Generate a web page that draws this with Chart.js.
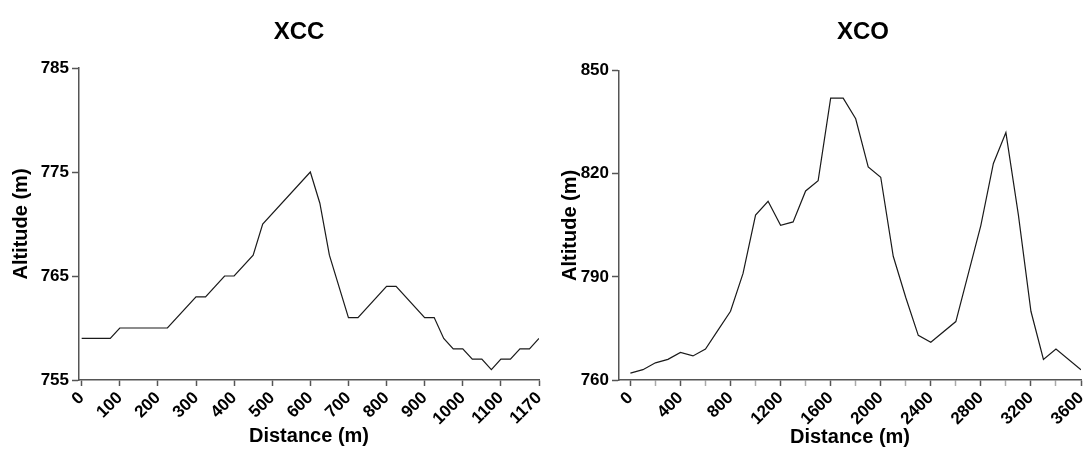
<!DOCTYPE html>
<html>
<head>
<meta charset="utf-8">
<script src="https://cdn.jsdelivr.net/npm/chart.js@4.4.0/dist/chart.umd.min.js"></script>
<style>
  html, body { margin: 0; padding: 0; background: #fff; overflow: hidden; width: 1083px; height: 449px; }
  #xcc { position: absolute; left: 0; top: 0; }
  #xco { position: absolute; left: 550px; top: 0; }
</style>
</head>
<body>
<canvas id="xcc" width="598" height="449"></canvas>
<canvas id="xco" width="626" height="449"></canvas>
<script>
// XCC profile (distance in m, altitude in m)
const xccDistance = [0, 75, 100, 225, 300, 325, 375, 400, 450, 475, 600, 625, 650, 700, 725, 800, 825, 900, 925, 950, 975, 1000, 1025, 1050, 1075, 1100, 1125, 1150, 1175, 1200];
const xccAltitude = [759, 759, 760, 760, 763, 763, 765, 765, 767, 770, 775, 772, 767, 761, 761, 764, 764, 761, 761, 759, 758, 758, 757, 757, 756, 757, 757, 758, 758, 759];
const xccTickValues = [0, 100, 200, 300, 400, 500, 600, 700, 800, 900, 1000, 1100, 1200];
const xccTickLabels = ['0', '100', '200', '300', '400', '500', '600', '700', '800', '900', '1000', '1100', '1170'];
const xccYTicks = [755, 765, 775, 785];

// XCO profile
const xcoDistance = [0, 100, 200, 300, 400, 500, 600, 700, 800, 900, 1000, 1100, 1200, 1300, 1400, 1500, 1600, 1700, 1800, 1900, 2000, 2100, 2200, 2300, 2400, 2600, 2800, 2900, 3000, 3100, 3200, 3300, 3400, 3600];
const xcoAltitude = [762, 763, 765, 766, 768, 767, 769, 774.5, 780, 791, 808, 812, 805, 806, 815, 818, 842, 842, 836, 822, 819, 796, 784, 773, 771, 777, 805, 823, 832, 808, 780, 766, 769, 763];
const xcoTickValues = [0, 200, 400, 600, 800, 1000, 1200, 1400, 1600, 1800, 2000, 2200, 2400, 2600, 2800, 3000, 3200, 3400, 3600];
const xcoTickLabels = ['0', '', '400', '', '800', '', '1200', '', '1600', '', '2000', '', '2400', '', '2800', '', '3200', '', '3600'];
const xcoYTicks = [760, 790, 820, 850];

const FONT = '"Liberation Sans", Arial, sans-serif';
const AXIS = '#555';

function profileChart(id, opts) {
    const ctx = document.getElementById(id).getContext('2d');
    const points = opts.distance.map((d, i) => ({ x: d, y: opts.altitude[i] }));

    return new Chart(ctx, {
        type: 'line',
        data: {
            datasets: [{
                data: points,
                borderColor: '#1a1a1a',
                borderWidth: 1.2,
                pointRadius: 0,
                tension: 0,
                fill: false
            }]
        },
        options: {
            responsive: false,
            animation: false,
            layout: { padding: 0 },
            plugins: {
                legend: { display: false },
                tooltip: { enabled: false },
                title: {
                    display: true,
                    text: opts.title,
                    color: '#000',
                    font: { family: FONT, size: 24, weight: 'bold' },
                    padding: { top: 17.6, bottom: opts.titleGap }
                }
            },
            scales: {
                x: {
                    type: 'linear',
                    min: opts.xMin,
                    max: opts.xMax,
                    afterBuildTicks: s => { s.ticks = opts.xTicks.map(v => ({ value: v })); },
                    afterFit: s => { s.height = 69; },
                    ticks: {
                        autoSkip: false,
                        minRotation: 45,
                        maxRotation: 45,
                        padding: 2,
                        color: '#000',
                        font: { family: FONT, size: 17, weight: 'bold' },
                        callback: (v, i) => opts.xLabels[i]
                    },
                    grid: {
                        drawOnChartArea: false,
                        tickLength: 6,
                        tickWidth: 1.5,
                        tickColor: c => (c.tick && opts.xLabels[c.index] === '') ? '#aaa' : AXIS
                    },
                    border: { color: AXIS, width: 1.5 },
                    title: {
                        display: true,
                        text: 'Distance (m)',
                        color: '#000',
                        font: { family: FONT, size: 20, weight: 'bold' },
                        padding: { top: 0, bottom: opts.xTitlePad }
                    }
                },
                y: {
                    min: opts.yMin,
                    max: opts.yMax,
                    afterBuildTicks: s => { s.ticks = opts.yTicks.map(v => ({ value: v })); },
                    afterFit: s => { s.width = opts.yWidth; },
                    ticks: {
                        padding: 3,
                        color: '#000',
                        font: { family: FONT, size: 17, weight: 'bold' }
                    },
                    grid: { drawOnChartArea: false, tickLength: 7, tickWidth: 1.5, tickColor: AXIS },
                    border: { color: AXIS, width: 1.5 },
                    title: {
                        display: true,
                        text: 'Altitude (m)',
                        color: '#000',
                        font: { family: FONT, size: 20, weight: 'bold' },
                        padding: { top: opts.yTitlePad, bottom: 0 }
                    }
                },
                // empty right-hand box, keeps the title centred like the original
                spacer: {
                    type: 'linear',
                    position: 'right',
                    display: true,
                    ticks: { display: false },
                    grid: { display: false },
                    border: { display: false },
                    afterFit: s => { s.width = opts.padRight; }
                }
            }
        }
    });
}

profileChart('xcc', {
    title: 'XCC',
    distance: xccDistance,
    altitude: xccAltitude,
    xTicks: xccTickValues,
    xLabels: xccTickLabels,
    yTicks: xccYTicks,
    xMin: -7, xMax: 1200,
    yMin: 755, yMax: 785,
    padRight: 59,
    titleGap: 21.6,
    yWidth: 79,
    yTitlePad: 9,
    xTitlePad: 1
});

profileChart('xco', {
    title: 'XCO',
    distance: xcoDistance,
    altitude: xcoAltitude,
    xTicks: xcoTickValues,
    xLabels: xcoTickLabels,
    yTicks: xcoYTicks,
    xMin: -91, xMax: 3600,
    yMin: 760, yMax: 850,
    padRight: 95,
    titleGap: 24.3,
    yWidth: 69,
    yTitlePad: 8,
    xTitlePad: 0
});
</script>
</body>
</html>
